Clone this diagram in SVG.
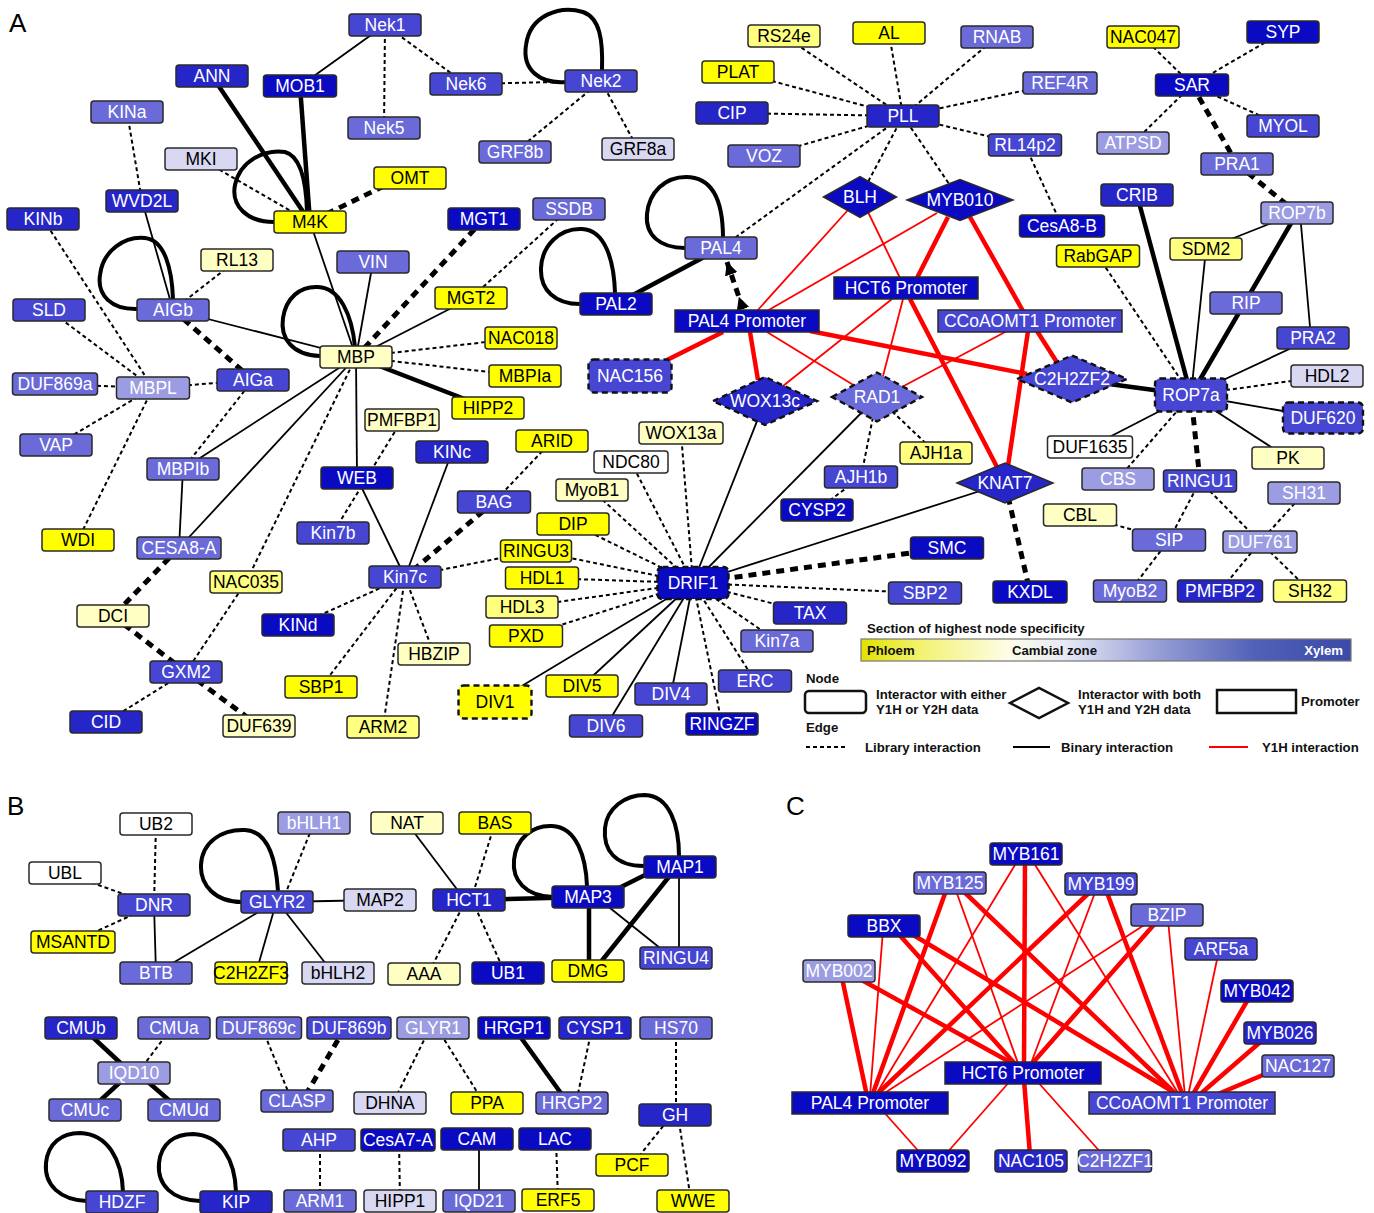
<svg xmlns="http://www.w3.org/2000/svg" width="1374" height="1213" viewBox="0 0 1374 1213">
<style>
text{font-family:"Liberation Sans",Arial,sans-serif}
.nd text{font-size:17.5px;text-anchor:middle}
.nd rect,.nd polygon{stroke:#2a2a2a;stroke-width:1.5}
.dsh rect,.dsh polygon{stroke:#111;stroke-width:2.4;stroke-dasharray:6 4}
.x1 rect,.x1 polygon{fill:#0a0ac2}
.x2 rect,.x2 polygon{fill:#2626c8}
.x3 rect,.x3 polygon{fill:#4646d2}
.x4 rect,.x4 polygon{fill:#6a6ad8}
.x5 rect,.x5 polygon{fill:#9c9ce2}
.x6 rect{fill:#d8d8f3}
.w rect{fill:#ffffff}
.py rect{fill:#ffffc4}
.my rect{fill:#ffff80}
.y rect{fill:#ffff00}
.x1 text,.x2 text,.x3 text,.x4 text,.x5 text{fill:#ffffff}
.x6 text,.w text,.py text,.my text,.y text{fill:#000000}
.lib{stroke:#000;stroke-width:2;stroke-dasharray:4 3;fill:none}
.libT{stroke:#000;stroke-width:5;stroke-dasharray:8 6;fill:none}
.bin{stroke:#000;stroke-width:1.8;fill:none}
.binT{stroke:#000;stroke-width:4.5;fill:none}
.loop{stroke:#000;stroke-width:4;fill:none}
.red{stroke:#ff0000;stroke-width:1.8}
.redT{stroke:#ff0000;stroke-width:4.5}
.lg{font-size:13.2px;font-weight:bold;fill:#111}
.pl{font-size:26px;fill:#000}
</style>
<defs>
<linearGradient id="spec" x1="0" x2="1" y1="0" y2="0">
<stop offset="0" stop-color="#e2e200"/>
<stop offset="0.12" stop-color="#f2f270"/>
<stop offset="0.3" stop-color="#fdfde8"/>
<stop offset="0.42" stop-color="#e6e8f6"/>
<stop offset="0.6" stop-color="#98a0d6"/>
<stop offset="0.8" stop-color="#5262b8"/>
<stop offset="1" stop-color="#3a4aa6"/>
</linearGradient>
<marker id="arrE" viewBox="0 0 10 10" refX="10" refY="5" markerWidth="2.6" markerHeight="2.6" orient="auto" markerUnits="strokeWidth"><path d="M0,0 L10,5 L0,10 z" fill="#000"/></marker>
<marker id="arrS" viewBox="0 0 10 10" refX="0" refY="5" markerWidth="2.6" markerHeight="2.6" orient="auto" markerUnits="strokeWidth"><path d="M0,0 L10,5 L0,10 z" fill="#000"/></marker>
</defs>
<rect width="1374" height="1213" fill="#ffffff"/>
<text class="pl" x="9" y="32">A</text>
<text class="pl" x="7" y="815">B</text>
<text class="pl" x="786" y="815">C</text>

<g id="connectors">
<!-- Panel A -->
<line class="bin" x1="385" y1="25" x2="300" y2="86"/>
<line class="lib" x1="385" y1="25" x2="384" y2="128"/>
<line class="lib" x1="385" y1="25" x2="466" y2="84"/>
<line class="lib" x1="466" y1="84" x2="601" y2="81"/>
<line class="lib" x1="601" y1="81" x2="515" y2="152"/>
<line class="lib" x1="601" y1="81" x2="638" y2="149"/>
<line class="binT" x1="212" y1="76" x2="310" y2="222"/>
<line class="binT" x1="300" y1="86" x2="310" y2="222"/>
<line class="lib" x1="201" y1="159" x2="310" y2="222"/>
<line class="libT" x1="384" y1="186" x2="310" y2="222"/>
<line class="lib" x1="127" y1="112" x2="142" y2="201"/>
<line class="bin" x1="142" y1="201" x2="173" y2="310"/>
<line class="lib" x1="43" y1="219" x2="153" y2="388"/>
<line class="lib" x1="49" y1="310" x2="153" y2="388"/>
<line class="lib" x1="237" y1="260" x2="173" y2="310"/>
<line class="bin" x1="173" y1="310" x2="356" y2="357"/>
<line class="libT" x1="173" y1="310" x2="253" y2="380"/>
<line class="lib" x1="55" y1="384" x2="153" y2="388"/>
<line class="lib" x1="153" y1="388" x2="253" y2="380"/>
<line class="lib" x1="56" y1="445" x2="153" y2="388"/>
<line class="lib" x1="153" y1="388" x2="78" y2="540"/>
<line class="lib" x1="253" y1="380" x2="183" y2="469"/>
<line class="bin" x1="183" y1="469" x2="179" y2="548"/>
<line class="bin" x1="356" y1="357" x2="183" y2="469"/>
<line class="bin" x1="356" y1="357" x2="179" y2="548"/>
<line class="lib" x1="356" y1="357" x2="246" y2="582"/>
<line class="lib" x1="246" y1="582" x2="186" y2="672"/>
<line class="libT" x1="179" y1="548" x2="113" y2="616"/>
<line class="libT" x1="113" y1="616" x2="186" y2="672"/>
<line class="libT" x1="186" y1="672" x2="259" y2="726"/>
<line class="lib" x1="186" y1="672" x2="106" y2="722"/>
<line class="bin" x1="310" y1="222" x2="356" y2="357"/>
<line class="bin" x1="373" y1="262" x2="356" y2="357"/>
<line class="libT" x1="484" y1="219" x2="356" y2="357"/>
<line class="lib" x1="569" y1="209" x2="471" y2="298"/>
<line class="bin" x1="471" y1="298" x2="356" y2="357"/>
<line class="lib" x1="356" y1="357" x2="521" y2="338"/>
<line class="lib" x1="356" y1="357" x2="525" y2="376"/>
<line class="binT" x1="356" y1="357" x2="488" y2="408"/>
<line class="bin" x1="356" y1="357" x2="357" y2="478"/>
<line class="lib" x1="402" y1="420" x2="333" y2="533"/>
<line class="bin" x1="357" y1="478" x2="405" y2="577"/>
<line class="bin" x1="452" y1="452" x2="405" y2="577"/>
<line class="libT" x1="494" y1="502" x2="405" y2="577"/>
<line class="lib" x1="552" y1="441" x2="494" y2="502"/>
<line class="lib" x1="405" y1="577" x2="536" y2="551"/>
<line class="lib" x1="405" y1="577" x2="298" y2="625"/>
<line class="lib" x1="405" y1="577" x2="321" y2="687"/>
<line class="lib" x1="405" y1="577" x2="383" y2="727"/>
<line class="lib" x1="405" y1="577" x2="434" y2="654"/>
<line class="lib" x1="784" y1="36" x2="903" y2="116"/>
<line class="lib" x1="889" y1="33" x2="903" y2="116"/>
<line class="lib" x1="997" y1="37" x2="903" y2="116"/>
<line class="lib" x1="738" y1="72" x2="903" y2="116"/>
<line class="lib" x1="1060" y1="83" x2="903" y2="116"/>
<line class="lib" x1="732" y1="113" x2="903" y2="116"/>
<line class="lib" x1="764" y1="156" x2="903" y2="116"/>
<line class="lib" x1="1025" y1="145" x2="903" y2="116"/>
<line class="lib" x1="903" y1="116" x2="860" y2="197"/>
<line class="lib" x1="903" y1="116" x2="960" y2="200"/>
<line class="lib" x1="903" y1="116" x2="721" y2="248"/>
<line class="lib" x1="1025" y1="145" x2="1062" y2="226"/>
<line class="lib" x1="1143" y1="37" x2="1192" y2="85"/>
<line class="lib" x1="1283" y1="32" x2="1192" y2="85"/>
<line class="lib" x1="1192" y1="85" x2="1133" y2="143"/>
<line class="lib" x1="1192" y1="85" x2="1283" y2="126"/>
<line class="libT" x1="1192" y1="85" x2="1237" y2="164"/>
<line class="libT" x1="1237" y1="164" x2="1297" y2="213"/>
<line class="binT" x1="1137" y1="195" x2="1191" y2="395"/>
<line class="binT" x1="1297" y1="213" x2="1191" y2="395"/>
<line class="bin" x1="1297" y1="213" x2="1206" y2="249"/>
<line class="bin" x1="1300" y1="213" x2="1311" y2="338"/>
<line class="bin" x1="1206" y1="249" x2="1191" y2="395"/>
<line class="bin" x1="1313" y1="338" x2="1191" y2="395"/>
<line class="bin" x1="1323" y1="418" x2="1191" y2="395"/>
<line class="bin" x1="1288" y1="458" x2="1191" y2="395"/>
<line class="bin" x1="1090" y1="447" x2="1191" y2="395"/>
<line class="lib" x1="1098" y1="256" x2="1191" y2="395"/>
<line class="lib" x1="1327" y1="376" x2="1191" y2="395"/>
<line class="lib" x1="1118" y1="479" x2="1191" y2="395"/>
<line class="libT" x1="1200" y1="481" x2="1191" y2="395"/>
<line class="binT" x1="1072" y1="379" x2="1191" y2="395"/>
<line class="lib" x1="1200" y1="481" x2="1169" y2="540"/>
<line class="lib" x1="1200" y1="481" x2="1260" y2="542"/>
<line class="lib" x1="1304" y1="493" x2="1260" y2="542"/>
<line class="lib" x1="1080" y1="515" x2="1169" y2="540"/>
<line class="lib" x1="1169" y1="540" x2="1130" y2="591"/>
<line class="lib" x1="1260" y1="542" x2="1220" y2="591"/>
<line class="lib" x1="1260" y1="542" x2="1310" y2="591"/>
<line class="binT" x1="616" y1="304" x2="721" y2="248"/>
<path class="libT" d="M743,309 L727,262" marker-start="url(#arrS)" marker-end="url(#arrE)"/>
<line class="red" x1="848" y1="210" x2="757" y2="311"/>
<line class="red" x1="937" y1="213" x2="767" y2="311"/>
<line class="red" x1="868" y1="212" x2="900" y2="278"/>
<line class="redT" x1="948" y1="217" x2="917" y2="278"/>
<line class="redT" x1="970" y1="217" x2="1023" y2="311"/>
<line class="redT" x1="723" y1="332" x2="667" y2="360"/>
<line class="redT" x1="750" y1="332" x2="758" y2="380"/>
<line class="red" x1="767" y1="332" x2="855" y2="386"/>
<line class="redT" x1="810" y1="331" x2="1027" y2="374"/>
<line class="red" x1="892" y1="299" x2="783" y2="386"/>
<line class="red" x1="903" y1="299" x2="883" y2="376"/>
<line class="redT" x1="910" y1="299" x2="997" y2="467"/>
<line class="red" x1="1007" y1="331" x2="900" y2="388"/>
<line class="redT" x1="1028" y1="331" x2="1008" y2="466"/>
<line class="redT" x1="1037" y1="331" x2="1058" y2="364"/>
<line class="bin" x1="765" y1="401" x2="693" y2="583"/>
<line class="bin" x1="877" y1="397" x2="693" y2="583"/>
<line class="bin" x1="1005" y1="483" x2="693" y2="583"/>
<line class="lib" x1="877" y1="397" x2="861" y2="477"/>
<line class="lib" x1="877" y1="397" x2="936" y2="453"/>
<line class="lib" x1="861" y1="477" x2="817" y2="510"/>
<line class="libT" x1="1005" y1="483" x2="1030" y2="592"/>
<line class="libT" x1="693" y1="583" x2="947" y2="548"/>
<line class="lib" x1="693" y1="583" x2="925" y2="593"/>
<line class="lib" x1="693" y1="583" x2="810" y2="613"/>
<line class="lib" x1="693" y1="583" x2="777" y2="641"/>
<line class="lib" x1="693" y1="583" x2="755" y2="681"/>
<line class="lib" x1="693" y1="583" x2="722" y2="724"/>
<line class="lib" x1="693" y1="583" x2="526" y2="636"/>
<line class="lib" x1="693" y1="583" x2="522" y2="607"/>
<line class="lib" x1="693" y1="583" x2="542" y2="578"/>
<line class="lib" x1="693" y1="583" x2="536" y2="551"/>
<line class="lib" x1="693" y1="583" x2="573" y2="524"/>
<line class="lib" x1="693" y1="583" x2="592" y2="490"/>
<line class="lib" x1="693" y1="583" x2="631" y2="462"/>
<line class="lib" x1="693" y1="583" x2="681" y2="433"/>
<line class="bin" x1="693" y1="583" x2="671" y2="694"/>
<line class="bin" x1="693" y1="583" x2="606" y2="726"/>
<line class="bin" x1="693" y1="583" x2="582" y2="686"/>
<line class="bin" x1="693" y1="583" x2="495" y2="702"/>
<path class="loop" d="M566,82 C540,84 522,70 526,45 C530,15 560,5 583,12 C600,18 603,40 602,70"/>
<path class="loop" d="M274,222 C246,222 231,205 235,185 C240,161 264,149 285,152 C300,156 306,180 307,211"/>
<path class="loop" d="M138,309 C111,310 97,295 100,275 C103,250 125,236 145,238 C165,240 172,270 173,299"/>
<path class="loop" d="M320,356 C292,355 280,338 283,318 C286,298 300,286 318,287 C340,288 352,315 355,347"/>
<path class="loop" d="M580,304 C555,304 540,290 541,268 C542,245 560,228 582,229 C605,230 614,260 615,293"/>
<path class="loop" d="M685,248 C660,248 645,235 647,214 C649,192 665,177 686,177 C715,177 723,205 723,238"/>
<!-- Panel B -->
<line class="lib" x1="156" y1="824" x2="154" y2="905"/>
<line class="lib" x1="65" y1="873" x2="154" y2="905"/>
<line class="lib" x1="73" y1="942" x2="154" y2="905"/>
<line class="bin" x1="154" y1="905" x2="156" y2="973"/>
<line class="bin" x1="262" y1="910" x2="156" y2="973"/>
<line class="bin" x1="274" y1="910" x2="256" y2="973"/>
<line class="bin" x1="284" y1="910" x2="333" y2="973"/>
<line class="bin" x1="277" y1="902" x2="380" y2="900"/>
<line class="lib" x1="282" y1="902" x2="314" y2="823"/>
<line class="bin" x1="407" y1="823" x2="465" y2="900"/>
<line class="lib" x1="495" y1="823" x2="471" y2="900"/>
<line class="lib" x1="466" y1="900" x2="428" y2="974"/>
<line class="lib" x1="472" y1="900" x2="505" y2="973"/>
<line class="binT" x1="469" y1="900" x2="588" y2="897"/>
<line class="binT" x1="615" y1="890" x2="655" y2="870"/>
<line class="binT" x1="589" y1="897" x2="589" y2="971"/>
<line class="binT" x1="672" y1="873" x2="596" y2="968"/>
<line class="bin" x1="600" y1="900" x2="670" y2="956"/>
<line class="bin" x1="679" y1="867" x2="679" y2="958"/>
<path class="loop" d="M242,902 C215,902 200,885 201,865 C202,842 222,829 245,830 C268,831 276,860 278,891"/>
<path class="loop" d="M553,897 C525,896 512,880 514,860 C516,838 533,825 552,826 C577,827 586,858 587,886"/>
<path class="loop" d="M644,866 C615,866 603,850 605,828 C607,808 625,795 645,795 C670,796 679,826 679,856"/>
<line class="binT" x1="85" y1="1030" x2="128" y2="1070"/>
<line class="lib" x1="170" y1="1030" x2="140" y2="1070"/>
<line class="binT" x1="128" y1="1075" x2="92" y2="1108"/>
<line class="binT" x1="140" y1="1075" x2="178" y2="1108"/>
<line class="lib" x1="262" y1="1028" x2="292" y2="1101"/>
<line class="libT" x1="345" y1="1028" x2="302" y2="1101"/>
<line class="lib" x1="430" y1="1028" x2="393" y2="1103"/>
<line class="lib" x1="437" y1="1028" x2="484" y2="1103"/>
<line class="binT" x1="514" y1="1028" x2="568" y2="1103"/>
<line class="lib" x1="592" y1="1028" x2="576" y2="1103"/>
<line class="lib" x1="676" y1="1028" x2="676" y2="1115"/>
<line class="lib" x1="672" y1="1115" x2="632" y2="1165"/>
<line class="lib" x1="678" y1="1115" x2="691" y2="1201"/>
<line class="lib" x1="320" y1="1140" x2="320" y2="1201"/>
<line class="lib" x1="399" y1="1140" x2="400" y2="1201"/>
<line class="bin" x1="479" y1="1139" x2="479" y2="1201"/>
<line class="lib" x1="556" y1="1139" x2="558" y2="1200"/>
<path class="loop" d="M87,1201 C60,1200 44,1185 46,1163 C48,1143 62,1133 80,1133 C108,1134 122,1160 123,1192"/>
<path class="loop" d="M200,1201 C172,1200 157,1185 159,1163 C161,1143 175,1134 193,1134 C221,1135 235,1160 236,1192"/>
<!-- Panel C -->
<line class="redT" x1="842" y1="978" x2="867" y2="1096"/>
<line class="redT" x1="858" y1="978" x2="1017" y2="1066"/>
<line class="red" x1="883" y1="930" x2="870" y2="1096"/>
<line class="redT" x1="895" y1="930" x2="1017" y2="1066"/>
<line class="redT" x1="905" y1="930" x2="1180" y2="1096"/>
<line class="redT" x1="947" y1="888" x2="872" y2="1096"/>
<line class="red" x1="955" y1="888" x2="1019" y2="1066"/>
<line class="redT" x1="960" y1="888" x2="1178" y2="1096"/>
<line class="red" x1="1018" y1="860" x2="875" y2="1096"/>
<line class="redT" x1="1025" y1="860" x2="1024" y2="1066"/>
<line class="red" x1="1032" y1="860" x2="1180" y2="1096"/>
<line class="redT" x1="1092" y1="890" x2="875" y2="1096"/>
<line class="red" x1="1096" y1="890" x2="1030" y2="1066"/>
<line class="redT" x1="1106" y1="890" x2="1183" y2="1096"/>
<line class="red" x1="1152" y1="920" x2="880" y2="1096"/>
<line class="redT" x1="1158" y1="920" x2="1030" y2="1066"/>
<line class="red" x1="1168" y1="920" x2="1185" y2="1096"/>
<line class="red" x1="1218" y1="955" x2="1188" y2="1096"/>
<line class="redT" x1="1250" y1="996" x2="1192" y2="1096"/>
<line class="redT" x1="1265" y1="1038" x2="1198" y2="1096"/>
<line class="redT" x1="1270" y1="1072" x2="1218" y2="1094"/>
<line class="red" x1="882" y1="1110" x2="922" y2="1155"/>
<line class="red" x1="1011" y1="1080" x2="945" y2="1155"/>
<line class="redT" x1="1024" y1="1080" x2="1030" y2="1155"/>
<line class="red" x1="1036" y1="1080" x2="1103" y2="1155"/>
</g>

<g id="nodes">
<!-- Panel A -->
<g id="n-Nek1" class="nd x3"><rect x="349" y="14" width="72" height="22" rx="3"/><text x="385" y="31">Nek1</text></g>
<g id="n-ANN" class="nd x2"><rect x="176" y="65" width="72" height="22" rx="3"/><text x="212" y="82">ANN</text></g>
<g id="n-MOB1" class="nd x1"><rect x="263.5" y="75" width="73" height="22" rx="3"/><text x="300" y="92">MOB1</text></g>
<g id="n-Nek6" class="nd x3"><rect x="430" y="73" width="72" height="22" rx="3"/><text x="466" y="90">Nek6</text></g>
<g id="n-Nek2" class="nd x3"><rect x="565" y="70" width="72" height="22" rx="3"/><text x="601" y="87">Nek2</text></g>
<g id="n-Nek5" class="nd x4"><rect x="348" y="117" width="72" height="22" rx="3"/><text x="384" y="134">Nek5</text></g>
<g id="n-KINa" class="nd x4"><rect x="91" y="101" width="72" height="22" rx="3"/><text x="127" y="118">KINa</text></g>
<g id="n-MKI" class="nd x6"><rect x="165" y="148" width="72" height="22" rx="3"/><text x="201" y="165">MKI</text></g>
<g id="n-OMT" class="nd y"><rect x="374" y="167" width="72" height="22" rx="3"/><text x="410" y="184">OMT</text></g>
<g id="n-GRF8b" class="nd x4"><rect x="479" y="141" width="72" height="22" rx="3"/><text x="515" y="158">GRF8b</text></g>
<g id="n-GRF8a" class="nd x6"><rect x="602" y="138" width="72" height="22" rx="3"/><text x="638" y="155">GRF8a</text></g>
<g id="n-WVD2L" class="nd x2"><rect x="106" y="190" width="72" height="22" rx="3"/><text x="142" y="207">WVD2L</text></g>
<g id="n-KINb" class="nd x2"><rect x="7" y="208" width="72" height="22" rx="3"/><text x="43" y="225">KINb</text></g>
<g id="n-M4K" class="nd y"><rect x="274" y="211" width="72" height="22" rx="3"/><text x="310" y="228">M4K</text></g>
<g id="n-MGT1" class="nd x1"><rect x="448" y="208" width="72" height="22" rx="3"/><text x="484" y="225">MGT1</text></g>
<g id="n-SSDB" class="nd x4"><rect x="533" y="198" width="72" height="22" rx="3"/><text x="569" y="215">SSDB</text></g>
<g id="n-RL13" class="nd py"><rect x="201" y="249" width="72" height="22" rx="3"/><text x="237" y="266">RL13</text></g>
<g id="n-VIN" class="nd x4"><rect x="337" y="251" width="72" height="22" rx="3"/><text x="373" y="268">VIN</text></g>
<g id="n-SLD" class="nd x3"><rect x="13" y="299" width="72" height="22" rx="3"/><text x="49" y="316">SLD</text></g>
<g id="n-AIGb" class="nd x4"><rect x="137" y="299" width="72" height="22" rx="3"/><text x="173" y="316">AIGb</text></g>
<g id="n-MGT2" class="nd y"><rect x="435" y="287" width="72" height="22" rx="3"/><text x="471" y="304">MGT2</text></g>
<g id="n-MBP" class="nd py"><rect x="320" y="346" width="72" height="22" rx="3"/><text x="356" y="363">MBP</text></g>
<g id="n-NAC018" class="nd y"><rect x="485" y="327" width="72" height="22" rx="3"/><text x="521" y="344">NAC018</text></g>
<g id="n-DUF869a" class="nd x4"><rect x="12.5" y="373" width="85" height="22" rx="3"/><text x="55" y="390">DUF869a</text></g>
<g id="n-MBPL" class="nd x5"><rect x="116.5" y="377" width="73" height="22" rx="3"/><text x="153" y="394">MBPL</text></g>
<g id="n-AIGa" class="nd x3"><rect x="217" y="369" width="72" height="22" rx="3"/><text x="253" y="386">AIGa</text></g>
<g id="n-MBPIa" class="nd y"><rect x="489" y="365" width="72" height="22" rx="3"/><text x="525" y="382">MBPIa</text></g>
<g id="n-HIPP2" class="nd y"><rect x="452" y="397" width="72" height="22" rx="3"/><text x="488" y="414">HIPP2</text></g>
<g id="n-PMFBP1" class="nd py"><rect x="365" y="409" width="74" height="22" rx="3"/><text x="402" y="426">PMFBP1</text></g>
<g id="n-VAP" class="nd x4"><rect x="20" y="434" width="72" height="22" rx="3"/><text x="56" y="451">VAP</text></g>
<g id="n-MBPIb" class="nd x4"><rect x="147" y="458" width="72" height="22" rx="3"/><text x="183" y="475">MBPIb</text></g>
<g id="n-WEB" class="nd x1"><rect x="321" y="467" width="72" height="22" rx="3"/><text x="357" y="484">WEB</text></g>
<g id="n-KINc" class="nd x2"><rect x="416" y="441" width="72" height="22" rx="3"/><text x="452" y="458">KINc</text></g>
<g id="n-WDI" class="nd y"><rect x="42" y="529" width="72" height="22" rx="3"/><text x="78" y="546">WDI</text></g>
<g id="n-CESA8-A" class="nd x4"><rect x="137" y="537" width="84" height="22" rx="3"/><text x="179" y="554">CESA8-A</text></g>
<g id="n-Kin7b" class="nd x3"><rect x="297" y="522" width="72" height="22" rx="3"/><text x="333" y="539">Kin7b</text></g>
<g id="n-NAC035" class="nd my"><rect x="210" y="571" width="72" height="22" rx="3"/><text x="246" y="588">NAC035</text></g>
<g id="n-DCI" class="nd py"><rect x="77" y="605" width="72" height="22" rx="3"/><text x="113" y="622">DCI</text></g>
<g id="n-Kin7c" class="nd x3"><rect x="369" y="566" width="72" height="22" rx="3"/><text x="405" y="583">Kin7c</text></g>
<g id="n-KINd" class="nd x1"><rect x="262" y="614" width="72" height="22" rx="3"/><text x="298" y="631">KINd</text></g>
<g id="n-HBZIP" class="nd py"><rect x="398" y="643" width="72" height="22" rx="3"/><text x="434" y="660">HBZIP</text></g>
<g id="n-GXM2" class="nd x3"><rect x="150" y="661" width="72" height="22" rx="3"/><text x="186" y="678">GXM2</text></g>
<g id="n-SBP1" class="nd y"><rect x="285" y="676" width="72" height="22" rx="3"/><text x="321" y="693">SBP1</text></g>
<g id="n-CID" class="nd x2"><rect x="70" y="711" width="72" height="22" rx="3"/><text x="106" y="728">CID</text></g>
<g id="n-DUF639" class="nd py"><rect x="223" y="715" width="72" height="22" rx="3"/><text x="259" y="732">DUF639</text></g>
<g id="n-ARM2" class="nd my"><rect x="347" y="716" width="72" height="22" rx="3"/><text x="383" y="733">ARM2</text></g>
<g id="n-RS24e" class="nd my"><rect x="748" y="25" width="72" height="22" rx="3"/><text x="784" y="42">RS24e</text></g>
<g id="n-AL" class="nd y"><rect x="853" y="22" width="72" height="22" rx="3"/><text x="889" y="39">AL</text></g>
<g id="n-RNAB" class="nd x4"><rect x="961" y="26" width="72" height="22" rx="3"/><text x="997" y="43">RNAB</text></g>
<g id="n-NAC047" class="nd y"><rect x="1107" y="26" width="72" height="22" rx="3"/><text x="1143" y="43">NAC047</text></g>
<g id="n-SYP" class="nd x1"><rect x="1247" y="21" width="72" height="22" rx="3"/><text x="1283" y="38">SYP</text></g>
<g id="n-PLAT" class="nd y"><rect x="702" y="61" width="72" height="22" rx="3"/><text x="738" y="78">PLAT</text></g>
<g id="n-REF4R" class="nd x4"><rect x="1023" y="72" width="74" height="22" rx="3"/><text x="1060" y="89">REF4R</text></g>
<g id="n-SAR" class="nd x1"><rect x="1155.5" y="74" width="73" height="22" rx="3"/><text x="1192" y="91">SAR</text></g>
<g id="n-CIP" class="nd x2"><rect x="696" y="102" width="72" height="22" rx="3"/><text x="732" y="119">CIP</text></g>
<g id="n-PLL" class="nd x2"><rect x="867" y="105" width="72" height="22" rx="3"/><text x="903" y="122">PLL</text></g>
<g id="n-MYOL" class="nd x3"><rect x="1247" y="115" width="72" height="22" rx="3"/><text x="1283" y="132">MYOL</text></g>
<g id="n-VOZ" class="nd x4"><rect x="728" y="145" width="72" height="22" rx="3"/><text x="764" y="162">VOZ</text></g>
<g id="n-RL14p2" class="nd x3"><rect x="988.5" y="134" width="73" height="22" rx="3"/><text x="1025" y="151">RL14p2</text></g>
<g id="n-ATPSD" class="nd x5"><rect x="1097" y="132" width="72" height="22" rx="3"/><text x="1133" y="149">ATPSD</text></g>
<g id="n-PRA1" class="nd x4"><rect x="1201" y="153" width="72" height="22" rx="3"/><text x="1237" y="170">PRA1</text></g>
<g id="n-BLH" class="nd x1"><polygon points="823.5,197 860,176.5 896.5,197 860,217.5"/><text x="860" y="203">BLH</text></g>
<g id="n-MYB010" class="nd x1"><polygon points="907,200 960,179.5 1013,200 960,220.5"/><text x="960" y="206">MYB010</text></g>
<g id="n-CRIB" class="nd x2"><rect x="1101" y="184" width="72" height="22" rx="3"/><text x="1137" y="201">CRIB</text></g>
<g id="n-CesA8-B" class="nd x1"><rect x="1019.5" y="215" width="85" height="22" rx="3"/><text x="1062" y="232">CesA8-B</text></g>
<g id="n-ROP7b" class="nd x5"><rect x="1261" y="202" width="72" height="22" rx="3"/><text x="1297" y="219">ROP7b</text></g>
<g id="n-PAL4" class="nd x4"><rect x="685" y="237" width="72" height="22" rx="3"/><text x="721" y="254">PAL4</text></g>
<g id="n-SDM2" class="nd my"><rect x="1170" y="238" width="72" height="22" rx="3"/><text x="1206" y="255">SDM2</text></g>
<g id="n-RabGAP" class="nd y"><rect x="1056.5" y="245" width="83" height="22" rx="3"/><text x="1098" y="262">RabGAP</text></g>
<g id="n-HCT6P" class="nd x1"><rect x="834" y="277" width="144" height="22"/><text x="906" y="294">HCT6 Promoter</text></g>
<g id="n-RIP" class="nd x4"><rect x="1210" y="292" width="72" height="22" rx="3"/><text x="1246" y="309">RIP</text></g>
<g id="n-PAL2" class="nd x1"><rect x="580" y="293" width="72" height="22" rx="3"/><text x="616" y="310">PAL2</text></g>
<g id="n-PAL4P" class="nd x1"><rect x="675" y="310" width="144" height="22"/><text x="747" y="327">PAL4 Promoter</text></g>
<g id="n-CCoAP" class="nd x3"><rect x="938" y="310" width="184" height="22"/><text x="1030" y="327">CCoAOMT1 Promoter</text></g>
<g id="n-PRA2" class="nd x3"><rect x="1277" y="327" width="72" height="22" rx="3"/><text x="1313" y="344">PRA2</text></g>
<g id="n-NAC156" class="nd x3 dsh"><rect x="588.5" y="359.5" width="83" height="33" rx="5"/><text x="630" y="382">NAC156</text></g>
<g id="n-C2H2ZF2" class="nd x3 dsh"><polygon points="1017,379 1072,355.5 1127,379 1072,402.5"/><text x="1072" y="385">C2H2ZF2</text></g>
<g id="n-ROP7a" class="nd x3 dsh"><rect x="1155" y="378.5" width="72" height="33" rx="5"/><text x="1191" y="401">ROP7a</text></g>
<g id="n-HDL2" class="nd x6"><rect x="1291" y="365" width="72" height="22" rx="3"/><text x="1327" y="382">HDL2</text></g>
<g id="n-WOX13c" class="nd x2 dsh"><polygon points="713,401 765,377 817,401 765,425"/><text x="765" y="407">WOX13c</text></g>
<g id="n-RAD1" class="nd x4 dsh"><polygon points="832,397 877,372.5 922,397 877,421.5"/><text x="877" y="403">RAD1</text></g>
<g id="n-DUF620" class="nd x3 dsh"><rect x="1283" y="402.5" width="80" height="31" rx="5"/><text x="1323" y="424">DUF620</text></g>
<g id="n-AJH1a" class="nd my"><rect x="900" y="442" width="72" height="22" rx="3"/><text x="936" y="459">AJH1a</text></g>
<g id="n-ARID" class="nd y"><rect x="516" y="430" width="72" height="22" rx="3"/><text x="552" y="447">ARID</text></g>
<g id="n-WOX13a" class="nd py"><rect x="639" y="422" width="84" height="22" rx="3"/><text x="681" y="439">WOX13a</text></g>
<g id="n-NDC80" class="nd w"><rect x="594" y="451" width="74" height="22" rx="3"/><text x="631" y="468">NDC80</text></g>
<g id="n-DUF1635" class="nd w"><rect x="1047.5" y="436" width="85" height="22" rx="3"/><text x="1090" y="453">DUF1635</text></g>
<g id="n-PK" class="nd py"><rect x="1252" y="447" width="72" height="22" rx="3"/><text x="1288" y="464">PK</text></g>
<g id="n-KNAT7" class="nd x2"><polygon points="957,483 1005,463 1053,483 1005,503"/><text x="1005" y="489">KNAT7</text></g>
<g id="n-CBS" class="nd x5"><rect x="1082" y="468" width="72" height="22" rx="3"/><text x="1118" y="485">CBS</text></g>
<g id="n-RINGU1" class="nd x3"><rect x="1163.5" y="470" width="73" height="22" rx="3"/><text x="1200" y="487">RINGU1</text></g>
<g id="n-SH31" class="nd x5"><rect x="1268" y="482" width="72" height="22" rx="3"/><text x="1304" y="499">SH31</text></g>
<g id="n-MyoB1" class="nd py"><rect x="556" y="479" width="72" height="22" rx="3"/><text x="592" y="496">MyoB1</text></g>
<g id="n-AJH1b" class="nd x3"><rect x="824.5" y="466" width="73" height="22" rx="3"/><text x="861" y="483">AJH1b</text></g>
<g id="n-BAG" class="nd x3"><rect x="457.5" y="491" width="73" height="22" rx="3"/><text x="494" y="508">BAG</text></g>
<g id="n-CYSP2" class="nd x1"><rect x="781" y="499" width="72" height="22" rx="3"/><text x="817" y="516">CYSP2</text></g>
<g id="n-CBL" class="nd py"><rect x="1043.5" y="504" width="73" height="22" rx="3"/><text x="1080" y="521">CBL</text></g>
<g id="n-DIP" class="nd y"><rect x="537" y="513" width="72" height="22" rx="3"/><text x="573" y="530">DIP</text></g>
<g id="n-SIP" class="nd x4"><rect x="1132.5" y="529" width="73" height="22" rx="3"/><text x="1169" y="546">SIP</text></g>
<g id="n-DUF761" class="nd x5"><rect x="1223" y="531" width="74" height="22" rx="3"/><text x="1260" y="548">DUF761</text></g>
<g id="n-RINGU3" class="nd y"><rect x="500.5" y="540" width="71" height="22" rx="3"/><text x="536" y="557">RINGU3</text></g>
<g id="n-SMC" class="nd x1"><rect x="910.5" y="537" width="73" height="22" rx="3"/><text x="947" y="554">SMC</text></g>
<g id="n-HDL1" class="nd y"><rect x="505.5" y="567" width="73" height="22" rx="3"/><text x="542" y="584">HDL1</text></g>
<g id="n-DRIF1" class="nd x1 dsh"><rect x="657.5" y="567" width="71" height="32" rx="5"/><text x="693" y="589">DRIF1</text></g>
<g id="n-SBP2" class="nd x3"><rect x="888.5" y="582" width="73" height="22" rx="3"/><text x="925" y="599">SBP2</text></g>
<g id="n-KXDL" class="nd x1"><rect x="993" y="581" width="74" height="22" rx="3"/><text x="1030" y="598">KXDL</text></g>
<g id="n-MyoB2" class="nd x4"><rect x="1093.5" y="580" width="73" height="22" rx="3"/><text x="1130" y="597">MyoB2</text></g>
<g id="n-PMFBP2" class="nd x2"><rect x="1177.5" y="580" width="85" height="22" rx="3"/><text x="1220" y="597">PMFBP2</text></g>
<g id="n-SH32" class="nd my"><rect x="1273.5" y="580" width="73" height="22" rx="3"/><text x="1310" y="597">SH32</text></g>
<g id="n-HDL3" class="nd my"><rect x="486" y="596" width="72" height="22" rx="3"/><text x="522" y="613">HDL3</text></g>
<g id="n-TAX" class="nd x2"><rect x="773.5" y="602" width="73" height="22" rx="3"/><text x="810" y="619">TAX</text></g>
<g id="n-PXD" class="nd y"><rect x="489.5" y="625" width="73" height="22" rx="3"/><text x="526" y="642">PXD</text></g>
<g id="n-Kin7a" class="nd x4"><rect x="741" y="630" width="72" height="22" rx="3"/><text x="777" y="647">Kin7a</text></g>
<g id="n-DIV1" class="nd y dsh"><rect x="458.5" y="685.5" width="73" height="33" rx="5"/><text x="495" y="708">DIV1</text></g>
<g id="n-DIV5" class="nd y"><rect x="546" y="675" width="72" height="22" rx="3"/><text x="582" y="692">DIV5</text></g>
<g id="n-DIV4" class="nd x3"><rect x="635" y="683" width="72" height="22" rx="3"/><text x="671" y="700">DIV4</text></g>
<g id="n-ERC" class="nd x3"><rect x="718.5" y="670" width="73" height="22" rx="3"/><text x="755" y="687">ERC</text></g>
<g id="n-DIV6" class="nd x3"><rect x="569.5" y="715" width="73" height="22" rx="3"/><text x="606" y="732">DIV6</text></g>
<g id="n-RINGZF" class="nd x1"><rect x="686" y="713" width="72" height="22" rx="3"/><text x="722" y="730">RINGZF</text></g>
<!-- Panel B -->
<g id="n-UB2" class="nd w"><rect x="120" y="813" width="72" height="22" rx="3"/><text x="156" y="830">UB2</text></g>
<g id="n-bHLH1" class="nd x5"><rect x="278" y="812" width="72" height="22" rx="3"/><text x="314" y="829">bHLH1</text></g>
<g id="n-NAT" class="nd py"><rect x="371" y="812" width="72" height="22" rx="3"/><text x="407" y="829">NAT</text></g>
<g id="n-BAS" class="nd y"><rect x="459" y="812" width="72" height="22" rx="3"/><text x="495" y="829">BAS</text></g>
<g id="n-UBL" class="nd w"><rect x="29" y="862" width="72" height="22" rx="3"/><text x="65" y="879">UBL</text></g>
<g id="n-DNR" class="nd x3"><rect x="118" y="894" width="72" height="22" rx="3"/><text x="154" y="911">DNR</text></g>
<g id="n-GLYR2" class="nd x3"><rect x="241" y="891" width="72" height="22" rx="3"/><text x="277" y="908">GLYR2</text></g>
<g id="n-MAP2" class="nd x6"><rect x="344" y="889" width="72" height="22" rx="3"/><text x="380" y="906">MAP2</text></g>
<g id="n-HCT1" class="nd x2"><rect x="433" y="889" width="72" height="22" rx="3"/><text x="469" y="906">HCT1</text></g>
<g id="n-MAP3" class="nd x1"><rect x="552" y="886" width="72" height="22" rx="3"/><text x="588" y="903">MAP3</text></g>
<g id="n-MAP1" class="nd x1"><rect x="644" y="856" width="72" height="22" rx="3"/><text x="680" y="873">MAP1</text></g>
<g id="n-MSANTD" class="nd y"><rect x="31" y="931" width="84" height="22" rx="3"/><text x="73" y="948">MSANTD</text></g>
<g id="n-BTB" class="nd x4"><rect x="120" y="962" width="72" height="22" rx="3"/><text x="156" y="979">BTB</text></g>
<g id="n-C2H2ZF3" class="nd y"><rect x="215" y="962" width="72" height="22" rx="3"/><text x="251" y="979">C2H2ZF3</text></g>
<g id="n-bHLH2" class="nd x6"><rect x="302" y="962" width="72" height="22" rx="3"/><text x="338" y="979">bHLH2</text></g>
<g id="n-AAA" class="nd py"><rect x="388" y="963" width="72" height="22" rx="3"/><text x="424" y="980">AAA</text></g>
<g id="n-UB1" class="nd x1"><rect x="472" y="962" width="72" height="22" rx="3"/><text x="508" y="979">UB1</text></g>
<g id="n-DMG" class="nd y"><rect x="552" y="960" width="72" height="22" rx="3"/><text x="588" y="977">DMG</text></g>
<g id="n-RINGU4" class="nd x3"><rect x="640" y="947" width="72" height="22" rx="3"/><text x="676" y="964">RINGU4</text></g>
<g id="n-CMUb" class="nd x2"><rect x="45" y="1017" width="72" height="22" rx="3"/><text x="81" y="1034">CMUb</text></g>
<g id="n-CMUa" class="nd x4"><rect x="138" y="1017" width="72" height="22" rx="3"/><text x="174" y="1034">CMUa</text></g>
<g id="n-DUF869c" class="nd x4"><rect x="216.5" y="1017" width="85" height="22" rx="3"/><text x="259" y="1034">DUF869c</text></g>
<g id="n-DUF869b" class="nd x3"><rect x="307" y="1017" width="84" height="22" rx="3"/><text x="349" y="1034">DUF869b</text></g>
<g id="n-GLYR1" class="nd x5"><rect x="397" y="1017" width="72" height="22" rx="3"/><text x="433" y="1034">GLYR1</text></g>
<g id="n-HRGP1" class="nd x1"><rect x="478" y="1017" width="72" height="22" rx="3"/><text x="514" y="1034">HRGP1</text></g>
<g id="n-CYSP1" class="nd x2"><rect x="559" y="1017" width="72" height="22" rx="3"/><text x="595" y="1034">CYSP1</text></g>
<g id="n-HS70" class="nd x4"><rect x="640" y="1017" width="72" height="22" rx="3"/><text x="676" y="1034">HS70</text></g>
<g id="n-IQD10" class="nd x5"><rect x="98" y="1062" width="72" height="22" rx="3"/><text x="134" y="1079">IQD10</text></g>
<g id="n-CMUc" class="nd x4"><rect x="49" y="1099" width="72" height="22" rx="3"/><text x="85" y="1116">CMUc</text></g>
<g id="n-CMUd" class="nd x4"><rect x="148" y="1099" width="72" height="22" rx="3"/><text x="184" y="1116">CMUd</text></g>
<g id="n-CLASP" class="nd x4"><rect x="261" y="1090" width="72" height="22" rx="3"/><text x="297" y="1107">CLASP</text></g>
<g id="n-DHNA" class="nd x6"><rect x="354" y="1092" width="72" height="22" rx="3"/><text x="390" y="1109">DHNA</text></g>
<g id="n-PPA" class="nd y"><rect x="451" y="1092" width="72" height="22" rx="3"/><text x="487" y="1109">PPA</text></g>
<g id="n-HRGP2" class="nd x4"><rect x="536" y="1092" width="72" height="22" rx="3"/><text x="572" y="1109">HRGP2</text></g>
<g id="n-GH" class="nd x2"><rect x="639" y="1104" width="72" height="22" rx="3"/><text x="675" y="1121">GH</text></g>
<g id="n-AHP" class="nd x3"><rect x="283" y="1129" width="72" height="22" rx="3"/><text x="319" y="1146">AHP</text></g>
<g id="n-CesA7-A" class="nd x1"><rect x="361" y="1129" width="74" height="22" rx="3"/><text x="398" y="1146">CesA7-A</text></g>
<g id="n-CAM" class="nd x1"><rect x="441" y="1128" width="72" height="22" rx="3"/><text x="477" y="1145">CAM</text></g>
<g id="n-LAC" class="nd x1"><rect x="519" y="1128" width="72" height="22" rx="3"/><text x="555" y="1145">LAC</text></g>
<g id="n-PCF" class="nd y"><rect x="596" y="1154" width="72" height="22" rx="3"/><text x="632" y="1171">PCF</text></g>
<g id="n-HDZF" class="nd x3"><rect x="86" y="1191" width="72" height="22" rx="3"/><text x="122" y="1208">HDZF</text></g>
<g id="n-KIP" class="nd x2"><rect x="200" y="1191" width="72" height="22" rx="3"/><text x="236" y="1208">KIP</text></g>
<g id="n-ARM1" class="nd x4"><rect x="284" y="1190" width="72" height="22" rx="3"/><text x="320" y="1207">ARM1</text></g>
<g id="n-HIPP1" class="nd x6"><rect x="364" y="1190" width="72" height="22" rx="3"/><text x="400" y="1207">HIPP1</text></g>
<g id="n-IQD21" class="nd x4"><rect x="443" y="1190" width="72" height="22" rx="3"/><text x="479" y="1207">IQD21</text></g>
<g id="n-ERF5" class="nd y"><rect x="522" y="1189" width="72" height="22" rx="3"/><text x="558" y="1206">ERF5</text></g>
<g id="n-WWE" class="nd y"><rect x="657" y="1190" width="72" height="22" rx="3"/><text x="693" y="1207">WWE</text></g>
<!-- Panel C -->
<g id="n-MYB161" class="nd x1"><rect x="990" y="843" width="72" height="22" rx="3"/><text x="1026" y="860">MYB161</text></g>
<g id="n-MYB125" class="nd x4"><rect x="914" y="872" width="72" height="22" rx="3"/><text x="950" y="889">MYB125</text></g>
<g id="n-MYB199" class="nd x3"><rect x="1065" y="873" width="72" height="22" rx="3"/><text x="1101" y="890">MYB199</text></g>
<g id="n-BBX" class="nd x1"><rect x="848" y="915" width="72" height="22" rx="3"/><text x="884" y="932">BBX</text></g>
<g id="n-BZIP" class="nd x4"><rect x="1131" y="904" width="72" height="22" rx="3"/><text x="1167" y="921">BZIP</text></g>
<g id="n-ARF5a" class="nd x3"><rect x="1185" y="938" width="72" height="22" rx="3"/><text x="1221" y="955">ARF5a</text></g>
<g id="n-MYB002" class="nd x5"><rect x="803" y="960" width="72" height="22" rx="3"/><text x="839" y="977">MYB002</text></g>
<g id="n-MYB042" class="nd x1"><rect x="1221" y="980" width="72" height="22" rx="3"/><text x="1257" y="997">MYB042</text></g>
<g id="n-MYB026" class="nd x2"><rect x="1244" y="1022" width="72" height="22" rx="3"/><text x="1280" y="1039">MYB026</text></g>
<g id="n-NAC127" class="nd x4"><rect x="1262" y="1055" width="72" height="22" rx="3"/><text x="1298" y="1072">NAC127</text></g>
<g id="n-HCT6P-C" class="nd x1"><rect x="945" y="1062" width="156" height="22"/><text x="1023" y="1079">HCT6 Promoter</text></g>
<g id="n-PAL4P-C" class="nd x1"><rect x="792" y="1092" width="156" height="22"/><text x="870" y="1109">PAL4 Promoter</text></g>
<g id="n-CCoAP-C" class="nd x3"><rect x="1089" y="1092" width="186" height="22"/><text x="1182" y="1109">CCoAOMT1 Promoter</text></g>
<g id="n-MYB092" class="nd x1"><rect x="897" y="1150" width="72" height="22" rx="3"/><text x="933" y="1167">MYB092</text></g>
<g id="n-NAC105" class="nd x2"><rect x="995" y="1150" width="72" height="22" rx="3"/><text x="1031" y="1167">NAC105</text></g>
<g id="n-C2H2ZF1" class="nd x4"><rect x="1078.5" y="1150" width="73" height="22" rx="3"/><text x="1115" y="1167">C2H2ZF1</text></g>
</g>

<g id="legend">
<text class="lg" x="867" y="633">Section of highest node specificity</text>
<rect x="861" y="639" width="490" height="22" fill="url(#spec)" stroke="#777" stroke-width="1.2"/>
<text class="lg" x="867" y="655">Phloem</text>
<text class="lg" x="1012" y="655">Cambial zone</text>
<text class="lg" x="1343" y="655" text-anchor="end" style="fill:#ffffff">Xylem</text>
<text class="lg" x="806" y="683">Node</text>
<rect x="805" y="691" width="61" height="22" rx="4" fill="#fff" stroke="#111" stroke-width="2.5"/>
<text class="lg" x="876" y="699">Interactor with either</text>
<text class="lg" x="876" y="714">Y1H or Y2H data</text>
<polygon points="1010,703 1039,688 1068,703 1039,718" fill="#fff" stroke="#111" stroke-width="2.5"/>
<text class="lg" x="1078" y="699">Interactor with both</text>
<text class="lg" x="1078" y="714">Y1H and Y2H data</text>
<rect x="1217" y="690" width="79" height="23" fill="#fff" stroke="#111" stroke-width="2.5"/>
<text class="lg" x="1301" y="706">Promoter</text>
<text class="lg" x="806" y="732">Edge</text>
<line class="lib" x1="806" y1="747" x2="848" y2="747"/>
<text class="lg" x="865" y="752">Library interaction</text>
<line class="bin" x1="1013" y1="747" x2="1050" y2="747"/>
<text class="lg" x="1061" y="752">Binary interaction</text>
<line class="red" x1="1209" y1="747" x2="1248" y2="747"/>
<text class="lg" x="1262" y="752">Y1H interaction</text>
</g>
</svg>
